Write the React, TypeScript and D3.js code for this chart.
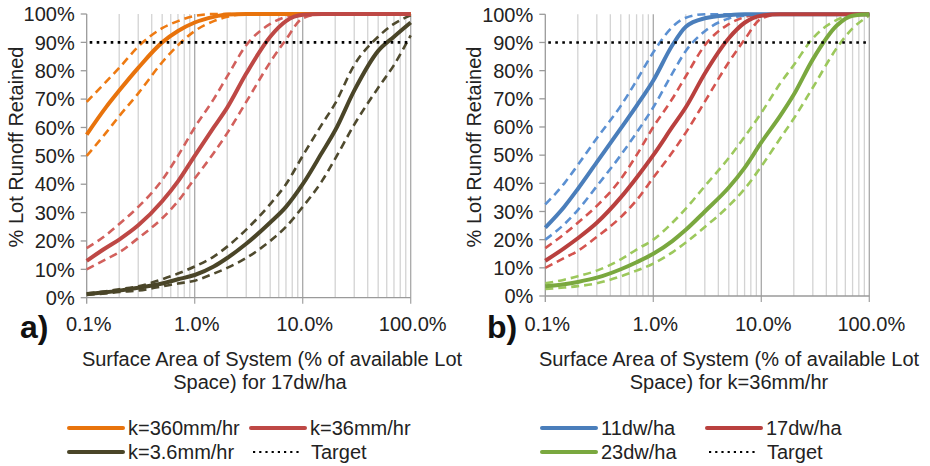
import React from "react";
import * as d3 from "d3";

// x positions (% of available lot space) at which the curves were read
const areaPct = [0.1, 0.15, 0.2, 0.3, 0.5, 0.7, 1, 1.5, 2, 3, 5, 7, 10, 15, 20, 30, 50, 70, 100];

// panel a) - 17dw/ha, different k
const k360 = [57.5, 67, 73, 81, 90, 94, 97, 99, 99.8, 100, 100, 100, 100, 100, 100, 100, 100, 100, 100];
const k360Hi = [69, 76, 81, 88.5, 95, 97.5, 99.3, 100, 100, 100, 100, 100, 100, 100, 100, 100, 100, 100, 100];
const k360Lo = [50, 58, 64, 72, 83, 89, 94, 97.5, 99, 100, 100, 100, 100, 100, 100, 100, 100, 100, 100];
const k36 = [13, 17.5, 20.5, 25.5, 34, 41, 50, 60, 67, 79, 92, 97.5, 99.7, 100, 100, 100, 100, 100, 100];
const k36Hi = [17.5, 22, 26, 32, 41.5, 50, 60, 70, 78, 89, 96.5, 99, 100, 100, 100, 100, 100, 100, 100];
const k36Lo = [10, 13.5, 16, 21, 28, 34, 42, 51, 58, 69, 83, 91, 98.5, 100, 100, 100, 100, 100, 100];
const k3_6 = [1.3, 1.9, 2.5, 3.5, 5, 6.5, 8, 11, 14, 19, 26.5, 32, 40, 51, 59, 73, 87, 92, 97];
const k3_6Hi = [1.5, 2.3, 3, 4, 6.5, 8.5, 11, 14.5, 18, 24, 33, 40, 50, 61, 68.5, 82, 92, 96.5, 99.5];
const k3_6Lo = [1, 1.5, 2, 2.5, 4, 5, 6, 8.5, 10.5, 14, 20, 25, 32, 41, 49, 61, 74, 82, 92.5];

// panel b) - k=36mm/hr, different densities
const dw11 = [24.3, 31.7, 38, 47.5, 59.5, 67.5, 76.5, 89, 95.6, 98.6, 99.7, 100, 100, 100, 100, 100, 100, 100, 100];
const dw11Hi = [32.5, 40, 46.5, 56, 67.5, 76.5, 86.5, 95.5, 98.8, 100, 100, 100, 100, 100, 100, 100, 100, 100, 100];
const dw11Lo = [20, 25.5, 30.5, 39, 50, 58, 67, 79, 87, 94, 98.5, 99.5, 100, 100, 100, 100, 100, 100, 100];
const dw17 = [12.5, 17, 20.5, 26, 35, 42, 50, 60, 67, 79, 91.5, 97, 99.5, 100, 100, 100, 100, 100, 100];
const dw17Hi = [17, 22, 26, 32, 41.5, 50, 60, 70, 78, 89, 96.5, 99, 100, 100, 100, 100, 100, 100, 100];
const dw17Lo = [10, 13.5, 16, 21, 28, 34, 42, 51, 58, 69, 83, 91, 98.5, 100, 100, 100, 100, 100, 100];
const dw23 = [3.5, 4.2, 5, 6.5, 9.5, 12, 15, 19.5, 23.5, 30, 38.5, 45.5, 54.5, 64, 71.5, 84, 96, 99.5, 100];
const dw23Hi = [4.5, 5.8, 7, 9, 13, 16.5, 20, 26, 31, 39, 49, 56.5, 65, 75.5, 82, 91.5, 98, 99.8, 100];
const dw23Lo = [2.5, 3, 3.5, 4.5, 7, 9, 11.5, 15.5, 19, 24.5, 32, 38, 46, 56, 63, 74, 88, 95, 99.5];

const yTicks = [0, 10, 20, 30, 40, 50, 60, 70, 80, 90, 100];
const xTicks = [0.1, 1, 10, 100];
const xTickLabels = ["0.1%", "1.0%", "10.0%", "100.0%"];
const target = 90;

const FONT = "'Liberation Sans', Arial, Helvetica, sans-serif";

type Series = { name: string; color: string; dash: string; main: number[]; hi: number[]; lo: number[] };

const panels = [
  {
    tag: "a)",
    x0: 86.7, x1: 410.7, yTop: 14, yBot: 297.7,
    title: ["Surface Area of System (% of available Lot", "Space) for 17dw/ha"],
    titleX: [272, 260],
    series: [
      { name: "k=360mm/hr", color: "#E8730C", dash: "#EE7A12", main: k360, hi: k360Hi, lo: k360Lo },
      { name: "k=36mm/hr", color: "#BE4845", dash: "#D2605C", main: k36, hi: k36Hi, lo: k36Lo },
      { name: "k=3.6mm/hr", color: "#4A4528", dash: "#4F4A2E", main: k3_6, hi: k3_6Hi, lo: k3_6Lo },
    ] as Series[],
    legendX: [69, 251],
    tagX: 20,
  },
  {
    tag: "b)",
    x0: 545.3, x1: 869.3, yTop: 14.3, yBot: 296,
    title: ["Surface Area of System (% of available Lot", "Space) for k=36mm/hr"],
    titleX: [729, 729],
    series: [
      { name: "11dw/ha", color: "#4A7EBB", dash: "#5B90D2", main: dw11, hi: dw11Hi, lo: dw11Lo },
      { name: "17dw/ha", color: "#B9403E", dash: "#D4544F", main: dw17, hi: dw17Hi, lo: dw17Lo },
      { name: "23dw/ha", color: "#7AA83F", dash: "#9CC85C", main: dw23, hi: dw23Hi, lo: dw23Lo },
    ] as Series[],
    legendX: [542, 707],
    tagX: 487,
  },
];

function Panel({ p }: { p: (typeof panels)[number] }) {
  const x = d3.scaleLog().domain([0.1, 100]).range([p.x0, p.x1]);
  const y = d3.scaleLinear().domain([0, 100]).range([p.yBot, p.yTop]);
  const line = d3
    .line<number>()
    .x((_, i) => x(areaPct[i]))
    .y((d) => y(d))
    .curve(d3.curveMonotoneX);

  const minor: number[] = [];
  for (let dec = 0.1; dec < 100; dec *= 10) {
    for (let m = 2; m <= 9; m++) minor.push(+(dec * m).toPrecision(3));
  }
  const midY = 147;
  const rows = [
    [p.series[0], p.series[1]],
    [p.series[2], null],
  ];
  const rowY = [428, 452];

  return (
    <g>
      {/* vertical grid */}
      {minor.map((v) => (
        <line key={"m" + v} x1={x(v)} x2={x(v)} y1={p.yTop} y2={p.yBot} stroke="#d3d3d3" strokeWidth={1.3} />
      ))}
      {xTicks.slice(1).map((v) => (
        <line key={"M" + v} x1={x(v)} x2={x(v)} y1={p.yTop} y2={p.yBot + 6} stroke="#a8a8a8" strokeWidth={1.3} />
      ))}
      {/* axes */}
      <line x1={p.x0} x2={p.x0} y1={p.yTop} y2={p.yBot + 6} stroke="#9a9a9a" strokeWidth={1.3} />
      <line x1={p.x0} x2={p.x1} y1={p.yBot} y2={p.yBot} stroke="#9a9a9a" strokeWidth={1.3} />
      {yTicks.map((t) => (
        <g key={"y" + t}>
          <line x1={p.x0 - 6} x2={p.x0} y1={y(t)} y2={y(t)} stroke="#9a9a9a" strokeWidth={1.3} />
          <text x={p.x0 - 12} y={y(t)} dy="0.36em" textAnchor="end" fontSize={20} fill="#222">
            {t}%
          </text>
        </g>
      ))}
      {xTicks.map((t, i) => (
        <text key={"x" + t} x={x(t) + 2} y={331} textAnchor="middle" fontSize={20} fill="#222">
          {xTickLabels[i]}
        </text>
      ))}
      <text
        transform={`translate(${p.x0 - 64},${midY}) rotate(-90)`}
        textAnchor="middle"
        fontSize={20}
        fill="#222"
      >
        % Lot Runoff Retained
      </text>
      <text x={p.tagX} y={338} fontSize={32} fontWeight="bold" fill="#111">
        {p.tag}
      </text>
      {p.title.map((s, i) => (
        <text key={s} x={p.titleX[i]} y={366 + i * 23} textAnchor="middle" fontSize={20} fill="#222">
          {s}
        </text>
      ))}

      {/* curves: dashed first, solid on top */}
      {p.series.map((s) => (
        <g key={s.name}>
          <path d={line(s.hi) || ""} fill="none" stroke={s.dash} strokeWidth={2.6} strokeDasharray="8,5" />
          <path d={line(s.lo) || ""} fill="none" stroke={s.dash} strokeWidth={2.6} strokeDasharray="8,5" />
        </g>
      ))}
      {p.series.map((s) => (
        <path key={"s" + s.name} d={line(s.main) || ""} fill="none" stroke={s.color} strokeWidth={4} strokeLinejoin="round" />
      ))}
      {/* target */}
      <line
        x1={p.x0 + 3}
        x2={p.x1 - 3}
        y1={y(target)}
        y2={y(target)}
        stroke="#000"
        strokeWidth={2.6}
        strokeDasharray="2.6,4.4"
      />

      {/* legend */}
      {rows.map((row, r) =>
        row.map((s, c) => {
          const lx = p.legendX[c];
          const ly = rowY[r];
          if (s) {
            return (
              <g key={"l" + r + c}>
                <line x1={lx} x2={lx + 54} y1={ly} y2={ly} stroke={s.color} strokeWidth={4} strokeLinecap="round" />
                <text x={lx + 59} y={ly} dy="0.36em" fontSize={20} fill="#222">
                  {s.name}
                </text>
              </g>
            );
          }
          return (
            <g key={"l" + r + c}>
              <line x1={lx + 2} x2={lx + 48} y1={ly} y2={ly} stroke="#000" strokeWidth={2.2} strokeDasharray="2.2,4" />
              <text x={lx + 60} y={ly} dy="0.36em" fontSize={20} fill="#222">
                Target
              </text>
            </g>
          );
        })
      )}
    </g>
  );
}

export default function App() {
  return (
    <svg
      width={930}
      height={466}
      style={{ position: "absolute", left: 0, top: 0, background: "#fff", fontFamily: FONT }}
    >
      {panels.map((p) => (
        <Panel key={p.tag} p={p} />
      ))}
    </svg>
  );
}
